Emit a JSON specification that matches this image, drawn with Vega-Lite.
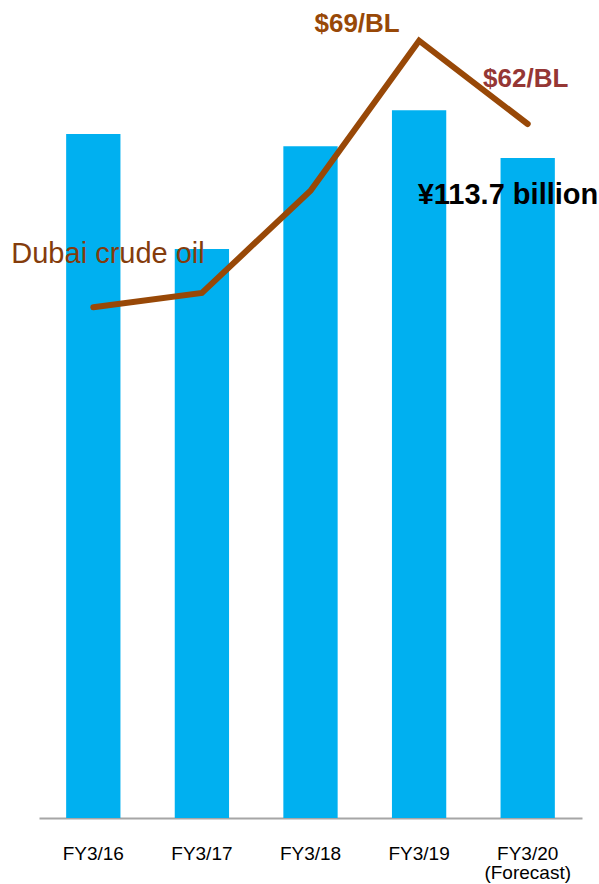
{
  "$schema": "https://vega.github.io/schema/vega-lite/v6.json",
  "width": 599,
  "height": 818,
  "autosize": {"type": "none"},
  "padding": {"left": 0, "top": 0, "right": 0, "bottom": 66},
  "background": "white",
  "config": {"view": {"stroke": null}, "font": "Liberation Sans"},
  "datasets": {
    "main": [
      {"fy": "FY3/16", "profit": 117.8, "price": 46.6},
      {"fy": "FY3/17", "profit": 98.0, "price": 47.8},
      {"fy": "FY3/18", "profit": 115.7, "price": 56.4},
      {"fy": "FY3/19", "profit": 121.9, "price": 69},
      {"fy": "FY3/20", "profit": 113.7, "price": 62}
    ]
  },
  "encoding": {
    "x": {
      "field": "fy",
      "type": "nominal",
      "sort": null,
      "scale": {"range": [39, 582], "paddingInner": 0.5, "paddingOuter": 0.25},
      "axis": {
        "title": null,
        "ticks": false,
        "domainColor": "#A6A6A6",
        "domainWidth": 2,
        "labelFont": "Liberation Sans",
        "labelFontSize": 19,
        "labelColor": "#000000",
        "labelPadding": 41,
        "labelLineHeight": 19,
        "labelAngle": 0,
        "labelBaseline": "alphabetic",
        "labelExpr": "datum.value == 'FY3/20' ? ['FY3/20', '(Forecast)'] : datum.label"
      }
    }
  },
  "layer": [
    {
      "data": {"name": "main"},
      "layer": [
        {
          "mark": {"type": "bar", "color": "#00B0F0"},
          "encoding": {
            "y": {"field": "profit", "type": "quantitative", "scale": {"domain": [0, 140.9], "nice": false, "zero": true}, "axis": null}
          }
        },
        {
          "transform": [{"filter": "datum.fy == 'FY3/20'"}],
          "mark": {"type": "text", "align": "left", "baseline": "alphabetic", "dx": -110, "dy": 46, "fontSize": 29, "fontWeight": "bold", "color": "#000000", "font": "Liberation Sans"},
          "encoding": {
            "y": {"field": "profit", "type": "quantitative", "scale": {"domain": [0, 140.9], "nice": false, "zero": true}, "axis": null},
            "text": {"value": "¥113.7 billion"}
          }
        }
      ]
    },
    {
      "data": {"name": "main"},
      "layer": [
        {
          "mark": {"type": "line", "color": "#984807", "strokeWidth": 6, "strokeCap": "round", "strokeJoin": "miter"},
          "encoding": {
            "y": {"field": "price", "type": "quantitative", "scale": {"domain": [3.68, 72.42], "nice": false, "zero": false}, "axis": null}
          }
        },
        {
          "transform": [{"filter": "datum.fy == 'FY3/16'"}],
          "mark": {"type": "text", "align": "left", "baseline": "alphabetic", "dx": -82, "dy": -44, "fontSize": 29, "color": "#843C0C", "font": "Liberation Sans"},
          "encoding": {
            "y": {"field": "price", "type": "quantitative", "scale": {"domain": [3.68, 72.42], "nice": false, "zero": false}, "axis": null},
            "text": {"value": "Dubai crude oil"}
          }
        },
        {
          "transform": [{"filter": "datum.fy == 'FY3/19'"}],
          "mark": {"type": "text", "align": "center", "baseline": "alphabetic", "dx": -62, "dy": -9, "fontSize": 26, "fontWeight": "bold", "color": "#984807", "font": "Liberation Sans"},
          "encoding": {
            "y": {"field": "price", "type": "quantitative", "scale": {"domain": [3.68, 72.42], "nice": false, "zero": false}, "axis": null},
            "text": {"value": "$69/BL"}
          }
        },
        {
          "transform": [{"filter": "datum.fy == 'FY3/20'"}],
          "mark": {"type": "text", "align": "center", "baseline": "alphabetic", "dx": -2, "dy": -37, "fontSize": 26, "fontWeight": "bold", "color": "#953735", "font": "Liberation Sans"},
          "encoding": {
            "y": {"field": "price", "type": "quantitative", "scale": {"domain": [3.68, 72.42], "nice": false, "zero": false}, "axis": null},
            "text": {"value": "$62/BL"}
          }
        }
      ]
    }
  ],
  "resolve": {"scale": {"y": "independent"}}
}
